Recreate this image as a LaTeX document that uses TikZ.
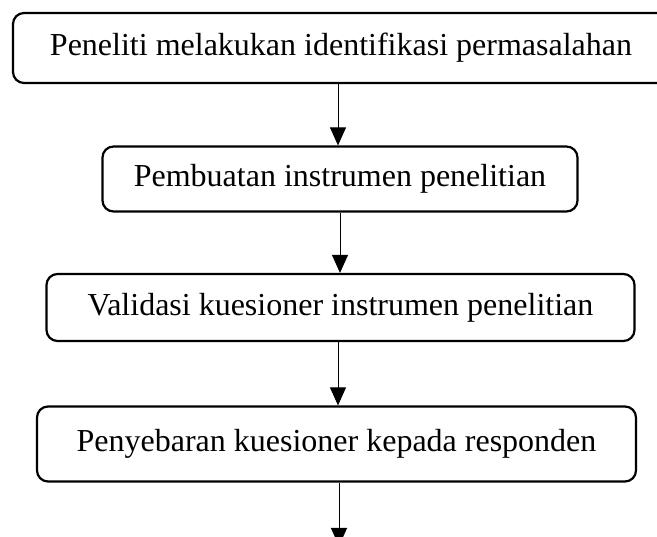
\documentclass[tikz,border=0pt]{standalone}
\usepackage{fontspec}
\setmainfont{Liberation Serif}
\usepackage{tikz}
\usetikzlibrary{arrows.meta}

\begin{document}
\begin{tikzpicture}[x=1pt,y=-1pt,
    kotak/.style={draw,black,line width=2.2pt,rounded corners=11pt,inner sep=0pt,
        font=\fontsize{32}{38}\selectfont},
    panah/.style={-{Triangle[width=16pt,length=18pt]},line width=0.9pt}]
    \useasboundingbox (0,0) rectangle (657,537);

    % kotak-kotak alur penelitian
    \node[kotak,minimum width=656pt,minimum height=70pt] (identifikasi) at (341,48)
        {Peneliti melakukan identifikasi permasalahan};
    \node[kotak,minimum width=475pt,minimum height=65pt] (instrumen) at (340,179)
        {Pembuatan instrumen penelitian};
    \node[kotak,minimum width=588pt,minimum height=67pt] (validasi) at (340.5,307.5)
        {Validasi kuesioner instrumen penelitian};
    \node[kotak,minimum width=599pt,minimum height=75pt] (penyebaran) at (336.5,444)
        {Penyebaran kuesioner kepada responden};
    \coordinate (lanjut) at (339,546);

    % panah antar kotak
    \draw[panah] (identifikasi.south -| 338,0) -- (instrumen.north -| 338,0);
    \draw[panah] (instrumen.south -| 340,0) -- (validasi.north -| 340,0);
    \draw[panah] (validasi.south -| 338,0) -- (penyebaran.north -| 338,0);
    \draw[panah] (penyebaran.south -| lanjut) -- (lanjut);
\end{tikzpicture}
\end{document}
